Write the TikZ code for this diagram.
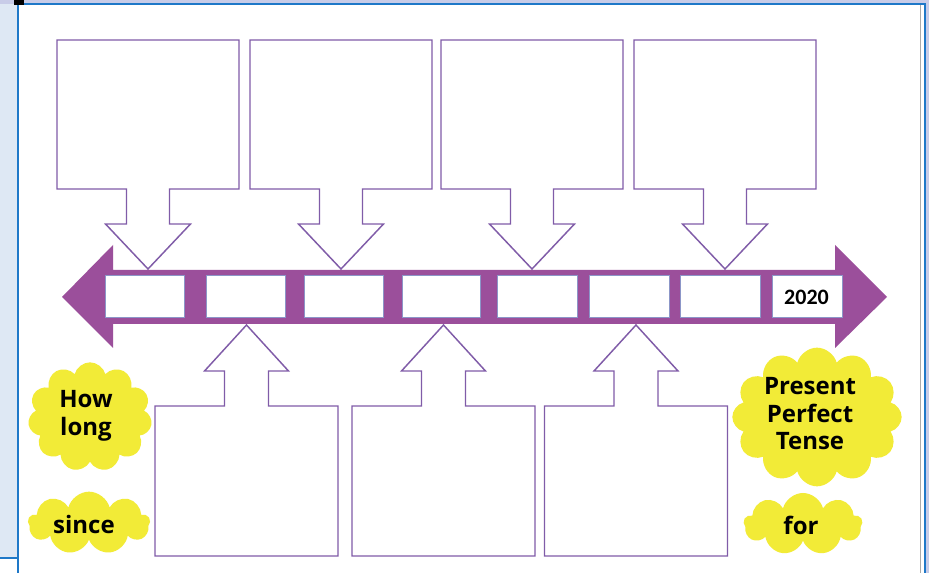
\documentclass[tikz,border=0pt]{standalone}
\usepackage{fontspec}
\setmainfont{Open Sans}
\newfontfamily\calib{Carlito}
\usetikzlibrary{shapes.symbols}
\definecolor{arrowpurple}{RGB}{155,79,155}
\definecolor{linepurple}{RGB}{128,92,168}
\definecolor{slotline}{RGB}{140,150,200}
\definecolor{cloudyellow}{RGB}{242,235,55}
\definecolor{frameblue}{RGB}{30,120,200}
\definecolor{stripblue}{RGB}{222,232,244}
\definecolor{stripviolet}{RGB}{200,204,232}
\definecolor{framegray}{RGB}{170,170,170}
\begin{document}
\begin{tikzpicture}[x=0.75pt,y=-0.75pt,
  callout/.style={draw=linepurple,line width=1.1pt,fill=white,line join=miter},
  slot/.style={draw=slotline,line width=0.6pt,fill=white,minimum height=31.5pt,inner sep=0pt},
  puff/.style={cloud,cloud ignores aspect,fill=cloudyellow,draw=none,inner sep=0pt},
  cloudtext/.style={font=\bfseries\fontsize{18}{20.6}\selectfont,align=center,inner sep=0pt},
  yeartext/.style={font=\calib\bfseries\fontsize{16.5}{18}\selectfont}
]
\useasboundingbox (0,0) rectangle (929,573);
% screenshot frame
\fill[white] (0,0) rectangle (929,573);
\fill[stripblue] (0,0) rectangle (17,558);
\fill[stripviolet] (0,0) rectangle (929,4);
\fill[stripviolet] (926,0) rectangle (929,573);
\draw[frameblue,line width=1.5pt] (17.5,4.5) -- (17.5,573);
\draw[frameblue,line width=1.5pt] (17.5,4.5) -- (925,4.5) -- (925,573);
\draw[framegray,line width=0.6pt] (920.5,5) -- (920.5,573);
\draw[frameblue,line width=0.8pt] (0,558) -- (17,558);
\fill[black] (14,0) rectangle (24,5);

% upper callouts
\foreach \c in {148,341,532,725} {
  \draw[callout] (\c-91,40) -- (\c+91,40) -- (\c+91,189) -- (\c+21.5,189) -- (\c+21.5,224) -- (\c+42.5,224) -- (\c,269) -- (\c-42.5,224) -- (\c-21.5,224) -- (\c-21.5,189) -- (\c-91,189) -- cycle;
}
% lower callouts
\foreach \c in {246.5,443.5,636} {
  \draw[callout] (\c-91.5,556) -- (\c+91.5,556) -- (\c+91.5,406) -- (\c+22,406) -- (\c+22,371) -- (\c+42,371) -- (\c,325) -- (\c-42,371) -- (\c-22,371) -- (\c-22,406) -- (\c-91.5,406) -- cycle;
}

% timeline arrow
\fill[arrowpurple] (62,297) -- (113,245) -- (113,270) -- (835,270) -- (835,245) -- (887,297) -- (835,348) -- (835,324) -- (113,324) -- (113,348) -- cycle;

% slots
\node[slot,minimum width=59.25pt] (s1) at (144.5,296) {};
\node[slot,minimum width=59.25pt] (s2) at (245.5,296) {};
\node[slot,minimum width=59.25pt] (s3) at (343.5,296) {};
\node[slot,minimum width=58.5pt] (s4) at (441,296) {};
\node[slot,minimum width=60pt] (s5) at (537,296) {};
\node[slot,minimum width=60pt] (s6) at (629,296) {};
\node[slot,minimum width=60pt] (s7) at (720,296) {};
\node[slot,minimum width=52.5pt] (s8) at (807,296) {};
\node[yeartext] (year) at (806.5,297) {2020};

% clouds
\node[puff,cloud puffs=11,minimum width=93pt,minimum height=82pt] (c1) at (90,417) {};
\node[puff,cloud puffs=9,minimum width=91.5pt,minimum height=47pt] (c2) at (89,523) {};
\node[puff,cloud puffs=12,minimum width=127pt,minimum height=104pt] (c3) at (817,417) {};
\node[puff,cloud puffs=9,minimum width=89pt,minimum height=46.5pt] (c4) at (803,524) {};

\node[cloudtext] (t1) at (86,416) {How\\long};
\node[cloudtext] (t2) at (84,525) {since};
\node[cloudtext] (t3) at (810,414) {Present\\Perfect\\Tense};
\node[cloudtext] (t4) at (801,525) {for};
\end{tikzpicture}
\end{document}
